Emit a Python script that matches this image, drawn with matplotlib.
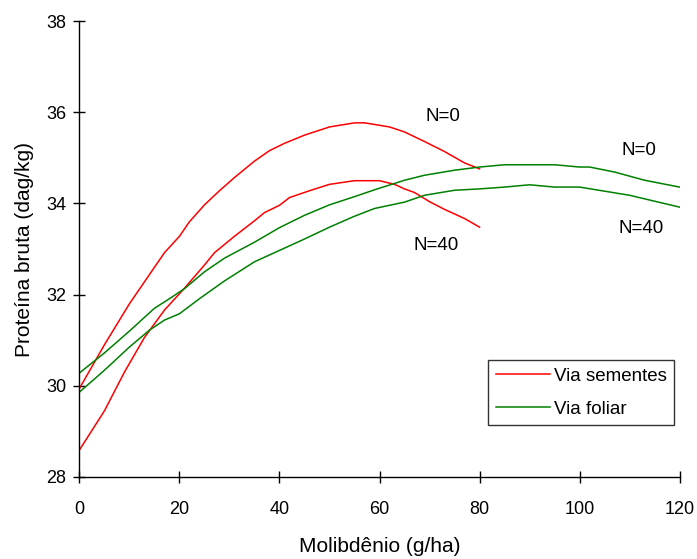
import matplotlib
matplotlib.use("Agg")
import matplotlib.pyplot as plt

plt.rcParams['font.family'] = ['Liberation Sans', 'DejaVu Sans']

# Via sementes (red)
sem_n0_x = [0, 5, 10, 15, 17, 20, 22, 25, 28, 31, 35, 38, 41, 45, 50, 55, 57, 62, 65, 69, 73, 77, 80]
sem_n0_y = [29.94, 30.90, 31.80, 32.60, 32.92, 33.28, 33.60, 33.97, 34.28, 34.57, 34.93, 35.16, 35.32,
            35.50, 35.68, 35.77, 35.77, 35.68, 35.57, 35.36, 35.14, 34.89, 34.76]
sem_n40_x = [0, 5, 9, 13, 17, 21, 25, 27, 31, 35, 37, 40, 42, 46, 50, 55, 60, 63, 65, 67, 70, 73, 77, 80]
sem_n40_y = [28.59, 29.45, 30.30, 31.06, 31.66, 32.14, 32.65, 32.92, 33.28, 33.62, 33.80, 33.96, 34.13,
             34.28, 34.42, 34.50, 34.50, 34.42, 34.32, 34.24, 34.04, 33.87, 33.67, 33.48]

# Via foliar (green)
fol_n0_x = [0, 5, 10, 15, 18, 21, 25, 29, 35, 40, 45, 50, 55, 59, 65, 69, 75, 80, 85, 95, 100, 102, 107, 113, 120]
fol_n0_y = [30.28, 30.72, 31.20, 31.70, 31.91, 32.13, 32.50, 32.80, 33.15, 33.47, 33.74, 33.97, 34.15,
            34.30, 34.51, 34.62, 34.73, 34.80, 34.85, 34.85, 34.80, 34.80, 34.69, 34.51, 34.36]
fol_n40_x = [0, 5, 10, 14, 17, 20, 24, 29, 35, 40, 45, 50, 55, 59, 65, 69, 75, 80, 85, 90, 95, 100, 110, 120]
fol_n40_y = [29.86, 30.34, 30.85, 31.22, 31.44, 31.58, 31.91, 32.30, 32.72, 32.97, 33.22, 33.48, 33.72,
             33.89, 34.03, 34.18, 34.29, 34.32, 34.36, 34.41, 34.36, 34.36, 34.18, 33.92]

labels = [('N=0', 72.7, 35.91), ('N=0', 111.9, 35.16), ('N=40', 71.3, 33.08), ('N=40', 112.3, 33.45)]

fig = plt.figure(figsize=(6.97, 5.59), dpi=100)
ax = fig.add_axes([0.114, 0.147, 0.861, 0.815])

red = '#ff0000'
green = '#008000'
ax.plot(sem_n0_x, sem_n0_y, color=red, lw=1.1, label='Via sementes')
ax.plot(sem_n40_x, sem_n40_y, color=red, lw=1.1)
ax.plot(fol_n0_x, fol_n0_y, color=green, lw=1.1, label='Via foliar')
ax.plot(fol_n40_x, fol_n40_y, color=green, lw=1.1)

for txt, x, y in labels:
    ax.text(x, y, txt, ha='center', va='center', fontsize=13.5)

ax.set_xlim(0, 120)
ax.set_ylim(28, 38)
ax.set_xticks(range(0, 121, 20))
ax.set_yticks(range(28, 39, 2))
ax.spines['top'].set_visible(False)
ax.spines['right'].set_visible(False)
for s in ['left', 'bottom']:
    ax.spines[s].set_linewidth(1.0)
ax.tick_params(direction='inout', length=8.5, width=1.0, labelsize=13)
ax.tick_params(axis='x', pad=13)
ax.tick_params(axis='y', pad=5)

ax.set_xlabel('Molibdênio (g/ha)', fontsize=15, labelpad=14)
ax.set_ylabel('Proteína bruta (dag/kg)', fontsize=15, labelpad=9)

leg = ax.legend(loc='upper right', bbox_to_anchor=(0.991, 0.256), fontsize=13.5,
                frameon=True, fancybox=False, handlelength=2.9, borderpad=0.4,
                labelspacing=0.85, handletextpad=0.2, borderaxespad=0)
leg.get_frame().set_edgecolor('black')
leg.get_frame().set_linewidth(1.0)

fig.savefig('out.png', dpi=100)
